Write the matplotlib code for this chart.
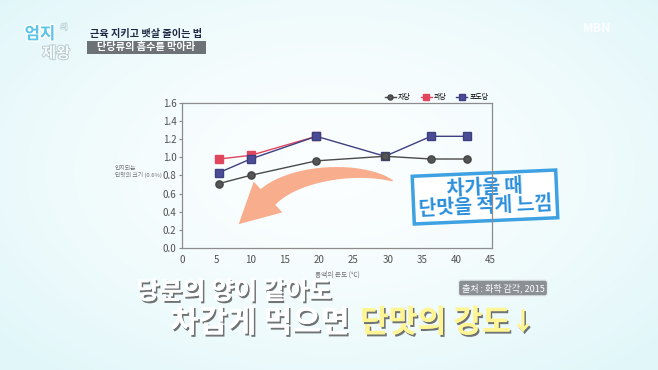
import matplotlib
matplotlib.use('Agg')
import matplotlib.pyplot as plt
import numpy as np
from matplotlib.patches import Polygon, Rectangle
import matplotlib.patheffects as pe

plt.rcParams['font.family'] = ['Noto Sans CJK KR', 'DejaVu Sans']

# ---- data ----
series_names = ['자당', '과당', '포도당']
temps = [5.4, 10, 19.6, 29.6, 36.3, 41.6]
sucrose = [0.71, 0.80, 0.96, 1.01, 0.98, 0.98]
temps_fructose = [5.4, 10, 19.6]
fructose = [0.98, 1.02, 1.23]
glucose = [0.83, 0.98, 1.23, 1.01, 1.23, 1.23]
x_ticks = [0, 5, 10, 15, 20, 25, 30, 35, 40, 45]
y_ticks = [0.0, 0.2, 0.4, 0.6, 0.8, 1.0, 1.2, 1.4, 1.6]
y_tick_labels = ['0.0', '0.2', '0.4', '0.6', '0.8', '1.0', '1.2', '1.4', '1.6']

W, H = 658, 370
fig = plt.figure(figsize=(W / 100, H / 100), dpi=100)

# ---- background canvas in pixel coordinates ----
bg = fig.add_axes([0, 0, 1, 1])
bg.set_xlim(0, W)
bg.set_ylim(H, 0)
bg.axis('off')
yy, xx = np.mgrid[0:H, 0:W]
d = np.clip(np.sqrt(((xx - 330) / 430.0) ** 2 + ((yy - 170) / 260.0) ** 2), 0, 1)
c0 = np.array([0.985, 0.997, 0.999])
c1 = np.array([0.885, 0.968, 0.978])
img = c0 + (c1 - c0) * (d[..., None] ** 1.6)
bg.imshow(img, extent=[0, W, H, 0], aspect='auto', zorder=0)

# logo
bg.text(40, 34, '엄지', fontsize=12, weight='heavy', color='#57c4e8', ha='center', va='center',
        path_effects=[pe.withStroke(linewidth=2, foreground='white')], zorder=3)
bg.text(64, 27, '의', fontsize=5.5, weight='bold', color='#e8f4f6', ha='center', va='center',
        path_effects=[pe.withStroke(linewidth=1, foreground='#b9cfd4')], zorder=3)
bg.text(56, 53, '제왕', fontsize=11, weight='heavy', color='#f4fbfc', ha='center', va='center',
        path_effects=[pe.withStroke(linewidth=1.2, foreground='#b5c6ca')], zorder=2)

# title
bg.text(146, 34, '근육 지키고 뱃살 줄이는 법', fontsize=7.3, weight='bold', color='#1e2844',
        ha='center', va='center', zorder=3)
bg.add_patch(Rectangle((87, 41), 119, 12.5, facecolor='#6d7277', edgecolor='none', zorder=2))
bg.text(146.5, 47.3, '단당류의 흡수를 막아라', fontsize=7.3, weight='bold', color='white',
        ha='center', va='center', zorder=3)
bg.text(597, 29, 'MBN', fontsize=9, weight='bold', color='white', alpha=0.85,
        ha='center', va='center', zorder=3)

# big curved arrow (decoration): cubic centreline with tapering width + head
P = np.array([[393, 181], [360, 166], [295, 172], [268, 197]], dtype=float)
t = np.linspace(0, 1, 80)[:, None]
pts = ((1 - t) ** 3) * P[0] + 3 * ((1 - t) ** 2) * t * P[1] + 3 * (1 - t) * t ** 2 * P[2] + t ** 3 * P[3]
der = 3 * ((1 - t) ** 2) * (P[1] - P[0]) + 6 * (1 - t) * t * (P[2] - P[1]) + 3 * t ** 2 * (P[3] - P[2])
der = der / np.linalg.norm(der, axis=1, keepdims=True)
nrm = np.column_stack([-der[:, 1], der[:, 0]])
wid = 0.6 + 21 * t[:, 0] ** 0.7
left = pts + nrm * wid[:, None] / 2
right = pts - nrm * wid[:, None] / 2
u = der[-1]
n_end = nrm[-1]
base = P[3]
head = [base + n_end * 21, base + u * 40, base - n_end * 21]
poly = np.vstack([left, head, right[::-1]])
bg.add_patch(Polygon(poly, closed=True, facecolor='#f8a986', edgecolor='none', alpha=0.95, zorder=2))

# callout box
bg.text(485, 197, '차가울 때\n단맛을 적게 느낌', fontsize=14, weight='heavy', color='#2a8fdc',
        ha='center', va='center', rotation=2.5, linespacing=1.0, zorder=3,
        bbox=dict(boxstyle='square,pad=0.25', facecolor='white', edgecolor='#3ea1e2', linewidth=2.5))

# y label
bg.text(115, 169, '인지되는', fontsize=4.2, color='#707070', ha='left', va='center', zorder=3)
bg.text(115, 175, '단맛의 크기 (0.6%)', fontsize=4.2, color='#707070', ha='left', va='center', zorder=3)

# source box
bg.text(503, 288, '출처 : 화학 감각, 2015', fontsize=6.5, color='white', ha='center', va='center', zorder=3,
        bbox=dict(boxstyle='round,pad=0.35,rounding_size=0.3', facecolor='#8b9095',
                  edgecolor='#e9eef0', linewidth=1))

# bottom captions
shadow = [pe.withSimplePatchShadow(offset=(1.2, -1.5), shadow_rgbFace='#3a3a3a', alpha=0.7), pe.Normal()]
bg.text(234, 292, '당분의 양이 같아도', fontsize=18, weight='bold', color='white',
        ha='center', va='center', path_effects=shadow, zorder=3)
bg.text(170, 323, '차갑게 먹으면', fontsize=22.5, weight='bold', color='white',
        ha='left', va='center', path_effects=shadow, zorder=3)
bg.text(360, 323, '단맛의 강도', fontsize=22.5, weight='heavy', color='#fff594',
        ha='left', va='center', path_effects=shadow, zorder=3)
bg.text(523, 323, '↓', fontsize=18, weight='bold', color='#fff594',
        ha='center', va='center', path_effects=shadow, zorder=3)

# ---- chart ----
ax = fig.add_axes([182 / W, 1 - 248 / H, (492 - 182) / W, (248 - 102.7) / H])
ax.set_facecolor('none')
ax.plot(temps_fructose, fructose, color='#e2455e', lw=1.0, marker='s', ms=5.2,
        mfc='#e2455e', mec='#e2455e', label=series_names[1], zorder=3)
ax.plot(temps, glucose, color='#3e3f80', lw=1.0, marker='s', ms=5.2,
        mfc='#4a4d96', mec='#3e3f80', label=series_names[2], zorder=4)
ax.plot(temps, sucrose, color='#4a4a4a', lw=1.0, marker='o', ms=5.2,
        mfc='#555555', mec='#444444', label=series_names[0], zorder=5)

ax.set_xlim(0, 45.2)
ax.set_ylim(0, 1.6)
ax.set_xticks(x_ticks)
ax.set_yticks(y_ticks)
ax.set_yticklabels(y_tick_labels)
ax.tick_params(axis='y', length=2, width=0.8, color='#888888', labelsize=7, labelcolor='#505050', pad=2)
ax.tick_params(axis='x', length=0, labelsize=7, labelcolor='#505050', pad=5)
for s in ax.spines.values():
    s.set_color('#8c8c8c')
    s.set_linewidth(0.9)
ax.set_xlabel('용액의 온도 (℃)', fontsize=4.8, color='#707070', labelpad=4)

h, l = ax.get_legend_handles_labels()
order = [2, 0, 1]
ax.legend([h[i] for i in order], [l[i] for i in order], loc='lower right', bbox_to_anchor=(1.0, 0.985),
          ncol=3, frameon=False, fontsize=5, handlelength=1.6, handletextpad=0.3,
          columnspacing=1.4, markerscale=0.7, borderaxespad=0.1)

fig.savefig('out.png', dpi=100)
